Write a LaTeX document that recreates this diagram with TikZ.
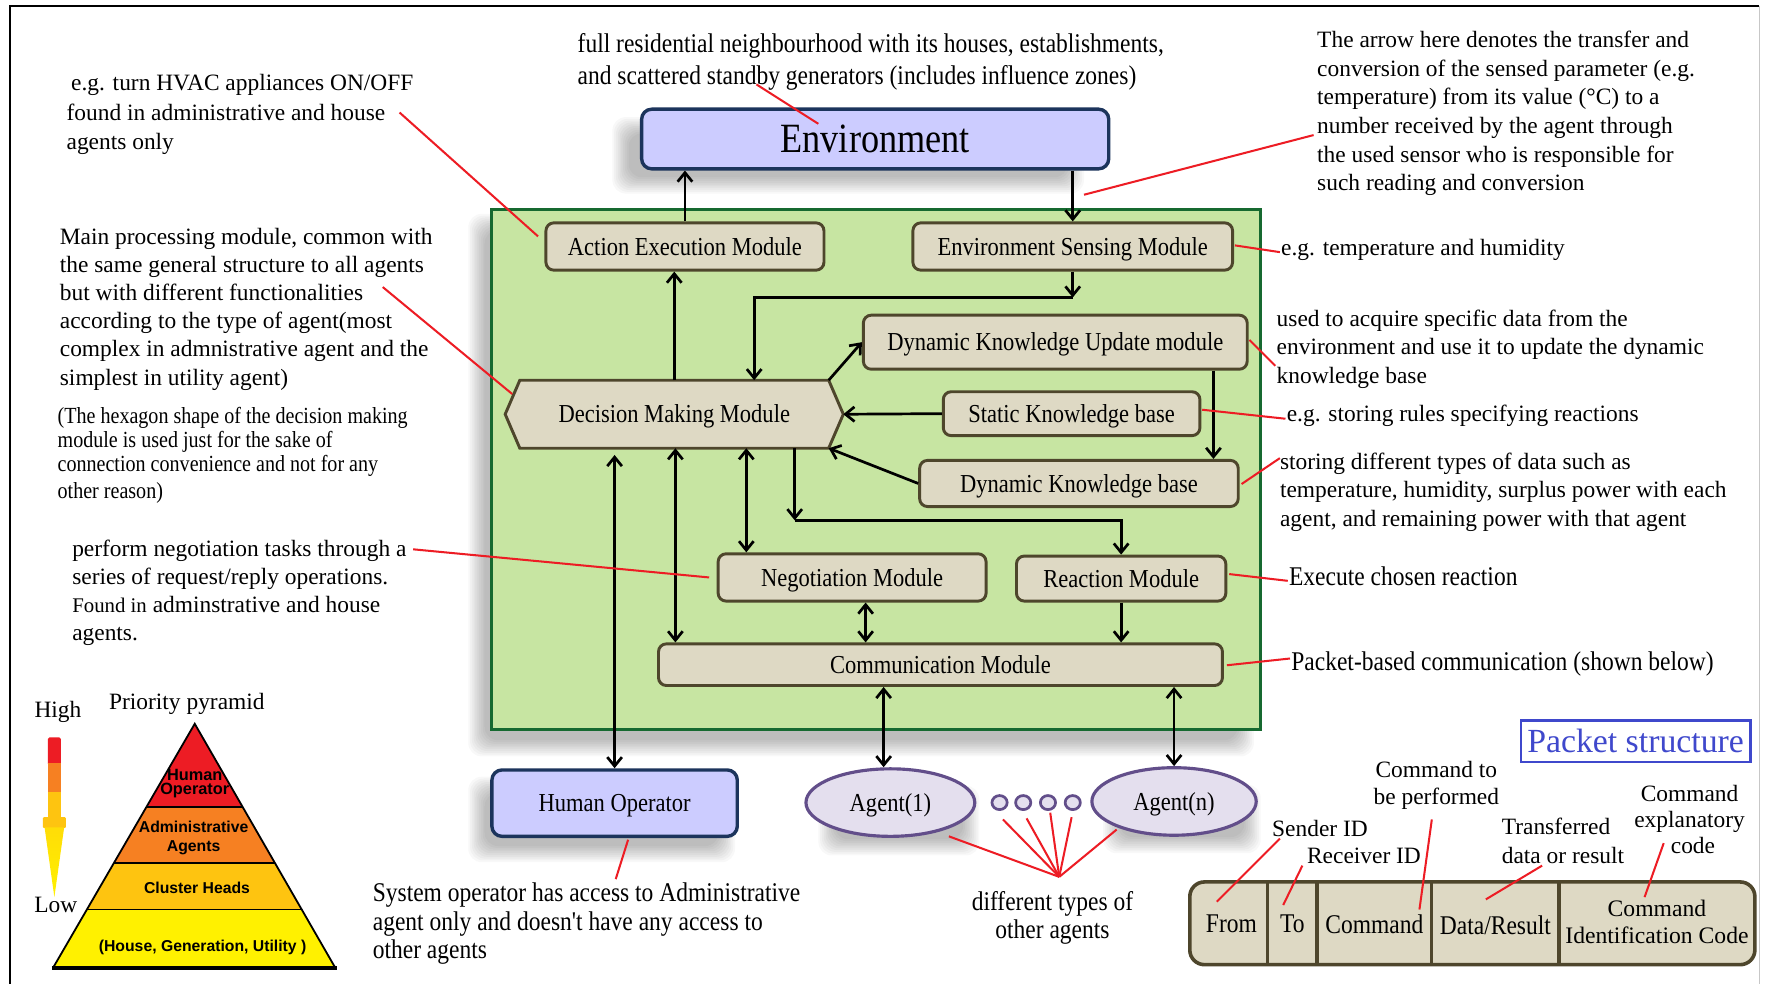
\documentclass[tikz,border=0pt]{standalone}
\usepackage{fontspec}
\setmainfont{Liberation Serif}
\newfontfamily\condfont{Liberation Serif}[FakeStretch=0.87]
\newfontfamily\pyrfont{Liberation Sans}
\usetikzlibrary{arrows.meta,shapes.geometric,calc}

\newcommand{\fsz}[2]{\fontsize{#1}{#2}\selectfont}

\definecolor{envfill}{RGB}{204,204,255}
\definecolor{envdraw}{RGB}{28,52,92}
\definecolor{gfill}{RGB}{199,229,162}
\definecolor{gdraw}{RGB}{22,105,48}
\definecolor{mfill}{RGB}{222,217,196}
\definecolor{mdraw}{RGB}{78,70,44}
\definecolor{agfill}{RGB}{228,223,238}
\definecolor{agdraw}{RGB}{98,78,138}
\definecolor{calred}{RGB}{237,28,36}
\definecolor{pblue}{RGB}{63,72,204}
\definecolor{pyrred}{RGB}{237,28,36}
\definecolor{pyrorange}{RGB}{246,128,34}
\definecolor{pyrgold}{RGB}{254,196,16}
\definecolor{pyryellow}{RGB}{255,241,0}

% soft grey shadow built from stacked translucent rounded boxes
\newcommand{\softshadow}[4]{%
  \foreach \k in {1,...,10}{%
    \fill[black, opacity=0.028, rounded corners=12pt]
      (#1-1.6*\k+8, #2-1.6*\k+8) rectangle (#3+1.6*\k-8, #4+1.6*\k-8);
  }}

\tikzset{
  modbox/.style={draw=mdraw, fill=mfill, line width=2.6pt, rounded corners=7pt,
    inner sep=0pt, font=\condfont\fsz{23}{26}, text height=15.3pt, text depth=0pt},
  envbox/.style={draw=envdraw, fill=envfill, line width=3pt, rounded corners=9pt,
    inner sep=0pt},
  agentnode/.style={ellipse, draw=agdraw, fill=agfill, line width=2.8pt, inner sep=0pt,
    font=\condfont\fsz{23}{26}, text height=15.3pt, text depth=0pt},
  dotnode/.style={ellipse, draw=agdraw, fill=agfill, line width=2.4pt, inner sep=0pt,
    minimum width=13.5pt, minimum height=12.5pt},
  tip/.tip={Straight Barb[length=8pt,width=13pt]},
  arr/.style={line width=2.4pt, -tip},
  dbl/.style={line width=2.4pt, tip-tip},
  callout/.style={draw=calred, line width=1.8pt},
  note/.style={inner sep=0pt, align=left, anchor=north west, font=\fsz{20.8}{25}},
  cnote/.style={inner sep=0pt, align=left, anchor=north west, font=\condfont\fsz{24}{25}},
  pyrtext/.style={inner sep=0pt, align=center, font=\pyrfont\bfseries\fsz{14}{17}},
  celltext/.style={inner sep=0pt, align=center, font=\condfont\fsz{24}{24}},
}

\begin{document}
\begin{tikzpicture}[x=1pt,y=-1pt]
\useasboundingbox (0,0) rectangle (1568,874);
\fill[white] (0,0) rectangle (1568,874);

% page frame
\draw[line width=1.8pt] (9,880) -- (9,5) -- (1563,5);
\draw[line width=1.2pt, black!22] (1563,5) -- (1563,880);

% shadows
\softshadow{552}{112}{955}{164}
\softshadow{424}{198}{1106}{664}
\softshadow{424}{698}{645}{758}
\softshadow{735}{706}{862}{752}
\softshadow{988}{705}{1112}{750}

% agent core container
\node[draw=gdraw, fill=gfill, line width=2.6pt, minimum width=683pt, minimum height=462pt,
  inner sep=0pt] (core) at (778.5,417) {};

% environment
\node[envbox, minimum width=415pt, minimum height=53pt, font=\condfont\fsz{37}{40},
  text height=23.5pt, text depth=0pt] (env) at (777.5,123.5) {Environment};

% modules
\node[modbox, minimum width=247pt, minimum height=42pt] (aem) at (608.5,219) {Action Execution Module};
\node[modbox, minimum width=284pt, minimum height=42pt] (esm) at (953,219) {Environment Sensing Module};
\node[modbox, minimum width=341pt, minimum height=48pt] (dku) at (937.5,304) {Dynamic Knowledge Update module};
\node[modbox, minimum width=228pt, minimum height=39pt] (skb) at (952,367.5) {Static Knowledge base};
\node[modbox, minimum width=283pt, minimum height=41pt] (dkb) at (958.5,429.5) {Dynamic Knowledge base};
\node[modbox, minimum width=238pt, minimum height=42pt] (neg) at (757,513) {Negotiation Module};
\node[modbox, minimum width=186pt, minimum height=40pt] (rea) at (996,514) {Reaction Module};
\node[modbox, minimum width=501pt, minimum height=37pt] (com) at (835.5,590.5) {Communication Module};

% decision making hexagon
\path (599,368) node[minimum width=300pt, minimum height=60pt, inner sep=0pt] (dmm) {};
\draw[draw=mdraw, fill=mfill, line width=2.6pt]
  (dmm.west) -- ([xshift=13pt]dmm.north west) -- ([xshift=-13pt]dmm.north east)
  -- (dmm.east) -- ([xshift=-13pt]dmm.south east) -- ([xshift=13pt]dmm.south west) -- cycle;
\node[font=\condfont\fsz{23}{26}, inner sep=0pt, text height=15.3pt, text depth=0pt]
  (dmmtext) at (dmm.center) {Decision Making Module};

% human operator and agents
\node[envbox, minimum width=218pt, minimum height=59pt, font=\condfont\fsz{23}{26},
  text height=15.3pt, text depth=0pt] (hop) at (546,713.5) {Human Operator};
\node[agentnode, minimum width=150pt, minimum height=60pt] (ag1) at (791,713) {Agent(1)};
\node[agentnode, minimum width=146pt, minimum height=60pt] (agn) at (1043,712) {Agent(n)};
\foreach \i/\x in {1/888,2/909,3/931,4/953} \node[dotnode] (dot\i) at (\x,713) {};

% connections
\draw[arr] (aem.north) -- (aem.north |- env.south);
\draw[arr] (env.south -| esm.north) -- (esm.north);
\draw[arr] (dmm.north) -- (dmm.north |- aem.south);
\draw[arr] (esm.south) -- ++(0,23) coordinate (sensj);
\draw[arr] (sensj) -| ([xshift=71pt]dmm.north);
\draw[arr] ([xshift=-13pt]dmm.north east) -- (dku.west);
\coordinate (dkudown) at ([xshift=140.5pt]dku.south);
\draw[arr] (dkudown) -- (dkudown |- dkb.north);
\draw[arr] (skb.west) -- (dmm.east);
\draw[arr] (dkb.west) -- ([xshift=-13pt]dmm.south east);
\draw[arr] ([xshift=107pt]dmm.south) -- ++(0,64) coordinate (decj);
\draw[arr] (decj) -| (rea.north);
\coordinate (negup) at ([xshift=64pt]dmm.south);
\draw[dbl] (negup) -- (negup |- neg.north);
\coordinate (comup) at ([xshift=1pt]dmm.south);
\draw[dbl] (comup) -- (comup |- com.north);
\coordinate (hopup) at ($(dmm.south -| hop.north)+(0,6)$);
\draw[dbl] (hopup) -- (hop.north);
\coordinate (negdown) at ([xshift=12pt]neg.south);
\draw[dbl] (negdown) -- (negdown |- com.north);
\draw[arr] (rea.south) -- (rea.south |- com.north);
\coordinate (ag1up) at ([xshift=-6pt]ag1.north);
\draw[dbl] (ag1up |- com.south) -- (ag1up);
\draw[dbl] (agn.north |- com.south) -- (agn.north);

% annotations
\node[note, font=\fsz{20.8}{26.5}] (thvac) at (59,65.5)
  {\hspace*{4pt}e.g. turn HVAC appliances ON/OFF\\found in administrative and house\\agents only};
\node[cnote, font=\condfont\fsz{24}{29}] (tenv) at (513,29.4)
  {full residential neighbourhood with its houses, establishments,\\and scattered standby generators (includes influence zones)};
\node[note, font=\fsz{20.8}{25.4}] (tarrow) at (1170,27.5)
  {The arrow here denotes the transfer and\\conversion of the sensed parameter (e.g.\\temperature) from its value (°C) to a\\number received by the agent through\\the used sensor who is responsible for\\such reading and conversion};
\node[note] (tmain) at (53,202.5)
  {Main processing module, common with\\the same general structure to all agents\\but with different functionalities\\according to the type of agent(most\\complex in admnistrative agent and the\\simplest in utility agent)};
\node[cnote, font=\condfont\fsz{20.5}{21.5}] (thex) at (51,361.6)
  {(The hexagon shape of the decision making\\module is used just for the sake of\\connection convenience and not for any\\[2.5pt]other reason)};
\node[note] (tneg) at (64,479.5)
  {perform negotiation tasks through a\\series of request/reply operations.\\{\fsz{18.5}{25}Found in} adminstrative and house\\agents.};
\node[note] (ttemp) at (1138,212.5) {e.g. temperature and humidity};
\node[note] (tdku) at (1134,275.5)
  {used to acquire specific data from the\\environment and use it to update the dynamic\\knowledge base};
\node[note] (tskb) at (1143,359.5) {e.g. storing rules specifying reactions};
\node[note] (tdkb) at (1137,402.5)
  {storing different types of data such as\\temperature, humidity, surplus power with each\\agent, and remaining power with that agent};
\node[cnote] (treact) at (1145,503.4) {Execute chosen reaction};
\node[cnote] (tcomm) at (1147,578.4) {Packet-based communication (shown below)};
\node[cnote] (tsys) at (331,784.4)
  {System operator has access to Administrative\\agent only and doesn't have any access to\\other agents};
\node[cnote, align=center, anchor=north] (tagents) at (935,791.4) {different types of\\other agents};

% callout lines
\coordinate (hvacA) at (355,100);   \coordinate (hvacB) at (478,210);
\coordinate (envA) at (672,75);     \coordinate (envB) at (727,110);
\coordinate (sensA) at (1167,120);  \coordinate (sensB) at (963,173);
\coordinate (mainA) at (340,255);   \coordinate (mainB) at (455,350);
\coordinate (negA) at (367,488);    \coordinate (negB) at (630,513);
\coordinate (tempA) at (1097,218);  \coordinate (tempB) at (1137,224);
\coordinate (dkuA) at (1110,302);   \coordinate (dkuB) at (1133,325);
\coordinate (skbA) at (1068,364);   \coordinate (skbB) at (1142,372);
\coordinate (dkbA) at (1103,430);   \coordinate (dkbB) at (1137,407);
\coordinate (reaA) at (1092,510);   \coordinate (reaB) at (1144,516);
\coordinate (comA) at (1090,591);   \coordinate (comB) at (1146,585);
\coordinate (hopA) at (558,746);    \coordinate (hopB) at (547,781);
\coordinate (agmeet) at (941,779);
\foreach \a/\b in {hvacA/hvacB,envA/envB,sensA/sensB,mainA/mainB,negA/negB,tempA/tempB,
  dkuA/dkuB,skbA/skbB,dkbA/dkbB,reaA/reaB,comA/comB,hopA/hopB}
  \draw[callout] (\a) -- (\b);
\coordinate (ag1c) at (843,743);
\coordinate (dot1c) at (891,728);
\coordinate (dot2c) at (912,727);
\coordinate (dot3c) at (933,722);
\coordinate (dot4c) at (952,726);
\coordinate (agnc) at (992,737);
\foreach \s in {ag1c,dot1c,dot2c,dot3c,dot4c,agnc} \draw[callout] (\s) -- (agmeet);

% priority pyramid
\node[inner sep=0pt, font=\fsz{20.8}{25}] (thigh) at (51.5,632) {High};
\node[inner sep=0pt, font=\fsz{20.8}{25}] (tlow) at (49.5,804) {Low};
\node[inner sep=0pt, font=\fsz{20.8}{25}] (tpyr) at (166,625) {Priority pyramid};
\fill[pyrred, rounded corners=1.5pt] (42.5,655) rectangle (54,680);
\fill[pyrred] (42.5,670) rectangle (54,678);
\fill[pyrorange] (42.5,678) rectangle (54,704);
\fill[pyrgold] (42.5,704) rectangle (54,727);
\fill[pyrgold, rounded corners=1pt] (38,726) rectangle (58.6,735.5);
\shade[top color=pyrgold!45!pyryellow, bottom color=pyryellow] (39.6,735) -- (57,735) -- (48.3,797) -- cycle;

\fill[pyrred] (173,643) -- (215.6,717) -- (130,717) -- cycle;
\fill[pyrorange] (130,717) -- (215.6,717) -- (244.4,767) -- (101,767) -- cycle;
\fill[pyrgold] (101,767) -- (244.4,767) -- (268,808) -- (77.2,808) -- cycle;
\fill[pyryellow] (77.2,808) -- (268,808) -- (298,860) -- (47,860) -- cycle;
\draw[line width=1.6pt] (130,717) -- (215.6,717) (101,767) -- (244.4,767) (77.2,808) -- (268,808);
\draw[line width=1.6pt, line join=miter] (47,860) -- (173,643) -- (298,860);
\draw[line width=3pt] (46,860) -- (299,860);
\node[pyrtext, font=\pyrfont\bfseries\fsz{14.5}{12}] (ptop) at (173,696) {Human\\Operator};
\node[pyrtext] (padm) at (172,744.5) {Administrative\\Agents};
\node[pyrtext] (pclu) at (175,789) {Cluster Heads};
\node[pyrtext] (pbase) at (180,842) {(House, Generation, Utility )};

% packet structure
\node[draw=pblue, line width=2pt, text=pblue, minimum width=204pt, minimum height=37pt,
  inner sep=0pt, font=\fsz{30}{32}] (ptitle) at (1453,658.5) {Packet structure};
\node[draw=mdraw, fill=mfill, line width=3.2pt, rounded corners=13pt, minimum width=502pt,
  minimum height=73.5pt, inner sep=0pt] (pkt) at (1308,820.25) {};
\foreach \x in {1126,1170,1272,1385} \draw[draw=mdraw, line width=2.8pt] (\x,783.5) -- (\x,857);
\node[celltext] (cfrom) at (1094,821) {From};
\node[celltext] (cto) at (1148,821) {To};
\node[celltext] (ccmd) at (1221,821) {Command};
\node[celltext] (cdata) at (1328.5,822) {Data/Result};
\node[inner sep=0pt, align=center, font=\fsz{21}{24}] (ccode) at (1472,819) {Command\\Identification Code};

\node[inner sep=0pt, align=center, font=\fsz{20.8}{24}] (lcmd) at (1276,698) {Command to\\be performed};
\node[inner sep=0pt, align=center, font=\fsz{20.8}{23}] (lcode) at (1501,728)
  {Command\\explanatory\\\hspace*{6pt}code};
\node[inner sep=0pt, anchor=west, font=\fsz{20.8}{24}] (lsend) at (1130,736) {Sender ID};
\node[inner sep=0pt, anchor=west, font=\fsz{20.8}{24}] (lrecv) at (1161,760) {Receiver ID};
\node[inner sep=0pt, align=left, anchor=north west, font=\fsz{20.8}{26}] (ldata) at (1334,726.5)
  {Transferred\\data or result};

\coordinate (sendA) at (1081,801);  \coordinate (sendB) at (1137,745);
\coordinate (recvA) at (1140,804);  \coordinate (recvB) at (1157,769);
\coordinate (cmdA) at (1261,808);   \coordinate (cmdB) at (1272,728);
\coordinate (dataA) at (1320,799);  \coordinate (dataB) at (1370,769);
\coordinate (codeA) at (1461,797);  \coordinate (codeB) at (1478,749);
\foreach \a/\b in {sendA/sendB,recvA/recvB,cmdA/cmdB,dataA/dataB,codeA/codeB}
  \draw[callout] (\a) -- (\b);
\end{tikzpicture}
\end{document}
